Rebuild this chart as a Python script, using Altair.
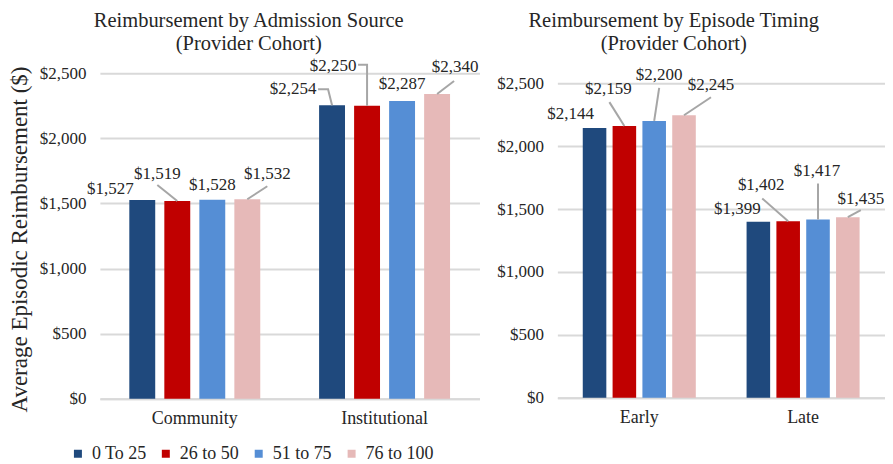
import altair as alt
import pandas as pd

# ---------------- data ----------------
cohorts = ["0 To 25", "26 to 50", "51 to 75", "76 to 100"]
colors = ["#1F497D", "#C00000", "#558ED5", "#E6B9B8"]

left_categories = ["Community", "Institutional"]
community_values = [1527, 1519, 1528, 1532]
institutional_values = [2254, 2250, 2287, 2340]

right_categories = ["Early", "Late"]
early_values = [2144, 2159, 2200, 2245]
late_values = [1399, 1402, 1417, 1435]

left_title = ["Reimbursement by Admission Source", "(Provider Cohort)"]
right_title = ["Reimbursement by Episode Timing", "(Provider Cohort)"]
y_title = "Average Episodic Reimbursement ($)"
y_ticks = [0, 500, 1000, 1500, 2000, 2500]

# ---------------- label placement (style: px offsets from bar top centre) ----------------
left_label_shift = {
    "Community": [(-32, -11), (-20, -27), (0, -15), (20, -25)],
    "Institutional": [(-39, -16), (-34, -40), (0, -17), (18, -27)],
}
left_leaders = {
    ("Community", 1): [(-20, -16)],
    ("Community", 3): [(20, -13)],
    ("Institutional", 0): [(-14, -16), (-4, -16)],
    ("Institutional", 1): [(-9, -41), (0, -41)],
    ("Institutional", 3): [(17, -13)],
}
right_label_shift = {
    "Early": [(-24, -14), (-16, -37), (5, -46), (27, -30)],
    "Late": [(-21, -13), (-27, -36), (-1, -49), (13, -18)],
}
right_leaders = {
    ("Early", 1): [(-15, -24)],
    ("Early", 2): [(5, -33)],
    ("Early", 3): [(27, -18)],
    ("Late", 1): [(-26, -23)],
    ("Late", 2): [(0, -36)],
    ("Late", 3): [(13, -7)],
}

FONT = "Liberation Serif"
TEXT = "#262626"
GRID = "#D9D9D9"
LEADER = "#A6A6A6"
P_X_INNER, P_X_OUTER = 0.31, 0.155


def panel(categories, values_by_cat, shifts, leaders, width, height, ymax, p_off,
          title, title_dx, title_offset, show_y_title):
    k = height / ymax                         # px per dollar
    step_x = width / (len(categories) - P_X_INNER + 2 * P_X_OUTER)
    bw = step_x * (1 - P_X_INNER)
    dom_off = len(cohorts) - p_off
    s = bw / dom_off                          # px per offset unit

    bar_rows, lab_rows, line_rows = [], [], []
    for cat, vals in zip(categories, values_by_cat):
        for j, (coh, v) in enumerate(zip(cohorts, vals)):
            bar_rows.append({"category": cat, "cohort": coh, "value": v})
            cx = j + (1 - p_off) / 2
            dx, dy = shifts[cat][j]
            lab_rows.append({"category": cat, "xo": cx + dx / s, "value": v - dy / k,
                             "label": f"${v:,.0f}"})
            if (cat, j) in leaders:
                pts = leaders[(cat, j)] + [(0, 0)]
                for n, (px, py) in enumerate(pts):
                    line_rows.append({"category": cat, "lid": f"{cat}-{j}", "pt": n,
                                      "xo": cx + px / s, "value": v - py / k})

    bars_df = pd.DataFrame(bar_rows)
    lab_df = pd.DataFrame(lab_rows)
    line_df = pd.DataFrame(line_rows)

    xscale = alt.Scale(paddingInner=P_X_INNER, paddingOuter=P_X_OUTER)
    yscale = alt.Scale(domain=[0, ymax], nice=False)
    oscale = alt.Scale(domain=[0, dom_off], nice=False, zero=True)

    yaxis = alt.Axis(values=y_ticks, format="$,.0f", domain=False, ticks=False,
                     grid=True, gridColor=GRID, gridWidth=2,
                     labelFont=FONT, labelFontSize=17, labelColor=TEXT, labelPadding=14,
                     titleFont=FONT, titleFontSize=23, titleFontWeight="normal",
                     titleColor=TEXT, titlePadding=8, titleY=166)
    xaxis = alt.Axis(domain=True, domainColor=GRID, domainWidth=2,
                     ticks=False, grid=False, labelAngle=0, labelFont=FONT,
                     labelFontSize=18, labelColor=TEXT, labelPadding=11)
    yt = y_title if show_y_title else None

    def X():
        return alt.X("category:N", sort=categories, scale=xscale, axis=xaxis, title=None)

    def Y():
        return alt.Y("value:Q", scale=yscale, axis=yaxis, title=yt)

    bars = alt.Chart(bars_df).mark_bar().encode(
        x=X(),
        xOffset=alt.XOffset("cohort:N", sort=cohorts,
                            scale=alt.Scale(paddingInner=p_off, paddingOuter=0)),
        y=Y(),
        color=alt.Color("cohort:N", sort=cohorts,
                        scale=alt.Scale(domain=cohorts, range=colors),
                        legend=alt.Legend(title=None, orient="none", legendX=-31, legendY=372,
                                          direction="horizontal", symbolType="square",
                                          symbolSize=64, symbolStrokeWidth=0,
                                          labelFont=FONT, labelFontSize=18, labelColor=TEXT,
                                          columnPadding=10, labelOffset=5, padding=0,
                                          gridAlign="each")),
    )

    lines = alt.Chart(line_df).mark_line(color=LEADER, strokeWidth=2).encode(
        x=X(),
        xOffset=alt.XOffset("xo:Q", scale=oscale),
        y=Y(),
        detail="lid:N",
        order="pt:Q",
    )

    labels = alt.Chart(lab_df).mark_text(font=FONT, fontSize=17, color=TEXT,
                                         align="center", baseline="middle").encode(
        x=X(),
        xOffset=alt.XOffset("xo:Q", scale=oscale),
        y=Y(),
        text="label:N",
    )

    return alt.layer(bars, lines, labels).resolve_scale(xOffset="independent").properties(
        width=width, height=height,
        title=alt.TitleParams(title, font=FONT, fontSize=20.5, fontWeight="normal",
                              color=TEXT, anchor="middle", frame="group", dx=title_dx,
                              offset=title_offset, lineHeight=23),
    )


# left plot: $0..$2,500 over 326 px; right plot: $2,500 sits 10 px lower (315 px per $2,500)
left = panel(left_categories, [community_values, institutional_values],
             left_label_shift, left_leaders, 380, 326, 2500, 0.26,
             left_title, -41, 2, True)
right = panel(right_categories, [early_values, late_values],
              right_label_shift, right_leaders, 328, 325, 2500 * 325 / 315, 0.21,
              right_title, -47.5, 12, False)

chart = alt.hconcat(left, right, spacing=17).properties(
    padding={"left": 0, "top": 2, "right": 0, "bottom": 0}
).configure(font=FONT).configure_view(stroke=None)

chart.save("out.html", embed_options={"renderer": "svg", "actions": False})
